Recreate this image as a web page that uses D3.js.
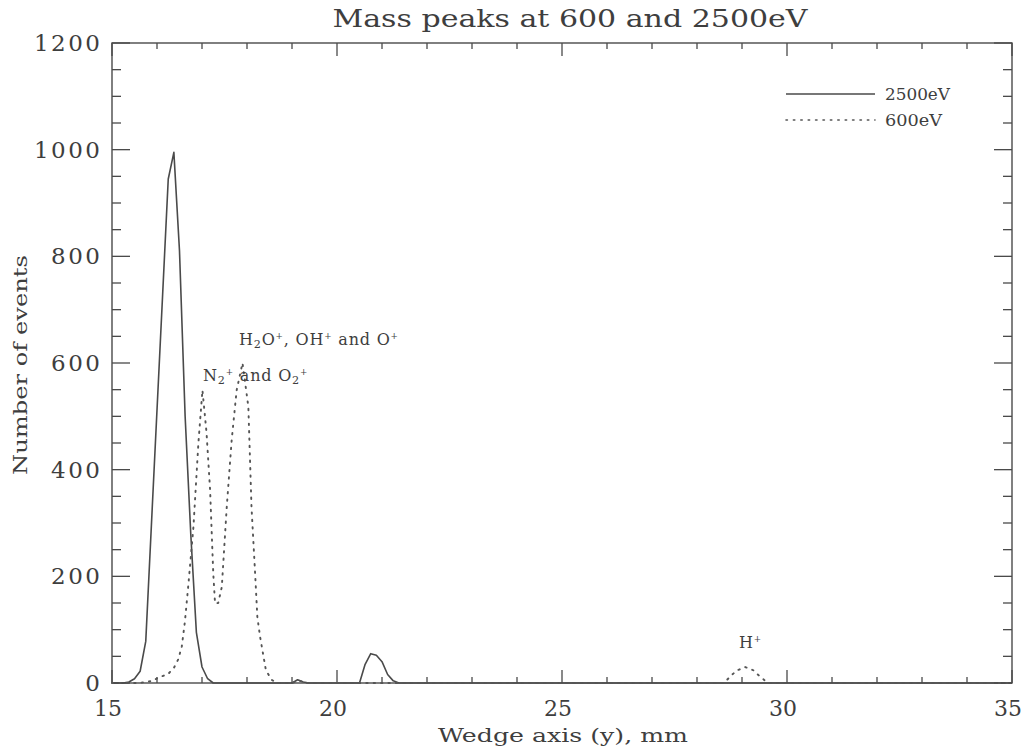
<!DOCTYPE html>
<html>
<head>
<meta charset="utf-8">
<script src="https://cdn.jsdelivr.net/npm/d3@7/dist/d3.min.js"></script>
<style>
  html, body { margin: 0; padding: 0; background: #fff; }
  svg text { font-family: "DejaVu Serif", "Liberation Serif", serif; fill: #3e3e3e; }
</style>
</head>
<body>
<svg id="chart" width="1025" height="750"></svg>
<script>
// Wedge-axis positions (mm) and event counts for each beam energy
const wedge2500 = [15.0, 15.25, 15.375, 15.5, 15.625, 15.75, 15.875, 16.0, 16.125, 16.25, 16.375,
  16.5, 16.625, 16.75, 16.875, 17.0, 17.125, 17.25, 19.0, 19.125, 19.25, 19.375,
  20.5, 20.625, 20.75, 20.875, 21.0, 21.125, 21.25, 21.375, 35.0];
const counts2500 = [0, 0, 2, 8, 22, 78, 295, 512, 728, 945, 995,
  810, 500, 280, 95, 30, 8, 0, 0, 6, 2, 0,
  0, 35, 55, 52, 40, 16, 4, 0, 0];

const wedge600 = [15.0, 15.6, 15.9, 16.03, 16.25, 16.38, 16.47, 16.55, 16.62, 16.7, 16.81, 16.92,
  17.01, 17.1, 17.18, 17.25, 17.29, 17.36, 17.44, 17.55, 17.66, 17.77, 17.9, 18.03, 18.1,
  18.18, 18.23, 18.29, 18.42, 18.55, 18.66, 19.0, 19.15, 19.3, 28.6, 28.77, 28.9, 29.07,
  29.25, 29.4, 29.58, 35.0];
const counts600 = [0, 0, 4, 10, 17, 29, 44, 68, 115, 187, 293, 450,
  549, 470, 362, 206, 149, 150, 180, 330, 456, 549, 600, 518, 330,
  206, 124, 87, 24, 6, 0, 0, 5, 0, 0, 15, 24, 30,
  24, 12, 0, 0];

const seriesNames = ["2500eV", "600eV"];
const xMajorTicks = [15, 20, 25, 30, 35];
const yMajorTicks = [0, 200, 400, 600, 800, 1000, 1200];

const svg = d3.select("#chart");
const plotLeft = 112, plotRight = 1012, plotTop = 43, plotBottom = 683;

const x = d3.scaleLinear().domain([15, 35]).range([plotLeft, plotRight]);
const y = d3.scaleLinear().domain([0, 1200]).range([plotBottom, plotTop]);

const ink = "#4a4a4a";

// minor and major ticks on all four sides, pointing inwards
const xMinor = d3.range(15, 35.01, 1);
const yMinor = d3.range(0, 1200.1, 50);
const ticks = svg.append("g").attr("stroke", ink).attr("stroke-width", 1.3);

xMinor.forEach(v => {
  const len = xMajorTicks.includes(v) ? 13 : 6;
  ticks.append("line").attr("x1", x(v)).attr("x2", x(v)).attr("y1", plotBottom).attr("y2", plotBottom - len);
  ticks.append("line").attr("x1", x(v)).attr("x2", x(v)).attr("y1", plotTop).attr("y2", plotTop + len);
});
yMinor.forEach(v => {
  const len = yMajorTicks.includes(v) ? 18 : 9;
  ticks.append("line").attr("x1", plotLeft).attr("x2", plotLeft + len).attr("y1", y(v)).attr("y2", y(v));
  ticks.append("line").attr("x1", plotRight).attr("x2", plotRight - len).attr("y1", y(v)).attr("y2", y(v));
});

// plot frame
svg.append("rect")
  .attr("x", plotLeft).attr("y", plotTop)
  .attr("width", plotRight - plotLeft).attr("height", plotBottom - plotTop)
  .attr("fill", "none").attr("stroke", ink).attr("stroke-width", 1.4);

// tick labels
const tickFont = 23, tickSpacing = 2.5;
svg.append("g").selectAll("text").data(xMajorTicks).join("text")
  .attr("x", d => x(d) - 4).attr("y", 716)
  .attr("text-anchor", "middle")
  .attr("font-size", 22)
  .text(d => d);

svg.append("g").selectAll("text").data(yMajorTicks).join("text")
  .attr("x", 100 + tickSpacing).attr("y", d => y(d) + 8)
  .attr("text-anchor", "end")
  .attr("font-size", tickFont)
  .attr("letter-spacing", tickSpacing)
  .text(d => d);

// axis titles and chart title
svg.append("text")
  .attr("x", 570).attr("y", 27)
  .attr("text-anchor", "middle")
  .attr("font-size", 24)
  .attr("textLength", 475).attr("lengthAdjust", "spacingAndGlyphs")
  .text("Mass peaks at 600 and 2500eV");

svg.append("text")
  .attr("x", 563).attr("y", 742)
  .attr("text-anchor", "middle")
  .attr("font-size", 19)
  .attr("textLength", 250).attr("lengthAdjust", "spacingAndGlyphs")
  .text("Wedge axis (y), mm");

svg.append("text")
  .attr("transform", "translate(27,365) rotate(-90)")
  .attr("text-anchor", "middle")
  .attr("font-size", 19)
  .attr("textLength", 220).attr("lengthAdjust", "spacingAndGlyphs")
  .text("Number of events");

// curves
const line = d3.line().x(d => x(d[0])).y(d => y(d[1]));

svg.append("path")
  .datum(d3.zip(wedge2500, counts2500))
  .attr("d", line)
  .attr("fill", "none").attr("stroke", ink).attr("stroke-width", 1.6)
  .attr("stroke-linejoin", "round");

svg.append("path")
  .datum(d3.zip(wedge600, counts600))
  .attr("d", line)
  .attr("fill", "none").attr("stroke", "#555").attr("stroke-width", 1.9)
  .attr("stroke-dasharray", "1.4 6").attr("stroke-linecap", "round");

// legend
const legend = svg.append("g");
legend.append("line").attr("x1", 786).attr("x2", 875).attr("y1", 94).attr("y2", 94)
  .attr("stroke", ink).attr("stroke-width", 1.5);
legend.append("line").attr("x1", 786).attr("x2", 875).attr("y1", 120).attr("y2", 120)
  .attr("stroke", "#555").attr("stroke-width", 1.6)
  .attr("stroke-dasharray", "1.4 6").attr("stroke-linecap", "round");
legend.append("text").attr("x", 885).attr("y", 100).attr("font-size", 16)
  .attr("textLength", 65).attr("lengthAdjust", "spacingAndGlyphs").text(seriesNames[0]);
legend.append("text").attr("x", 885).attr("y", 126).attr("font-size", 16)
  .attr("textLength", 57).attr("lengthAdjust", "spacingAndGlyphs").text(seriesNames[1]);

// peak annotations with sub- and superscripts
function annotate(xp, yp, parts, size, spacing) {
  const t = svg.append("text").attr("x", xp).attr("y", yp)
    .attr("font-size", size).attr("letter-spacing", spacing);
  parts.forEach(p => {
    const s = t.append("tspan").text(p[0]);
    if (p[1] === "sub") s.attr("font-size", size * 0.7).attr("baseline-shift", "-25%");
    if (p[1] === "sup") s.attr("font-size", size * 0.55).attr("baseline-shift", "70%");
  });
  return t;
}

annotate(239, 345, [["H"], ["2", "sub"], ["O"], ["+", "sup"], [", OH"], ["+", "sup"], [" and O"], ["+", "sup"]], 16, 0.8);
annotate(203, 381, [["N"], ["2", "sub"], ["+", "sup"], [" and O"], ["2", "sub"], ["+", "sup"]], 16, 0.8);
annotate(739, 648, [["H"], ["+", "sup"]], 16, 0.8);
</script>
</body>
</html>
